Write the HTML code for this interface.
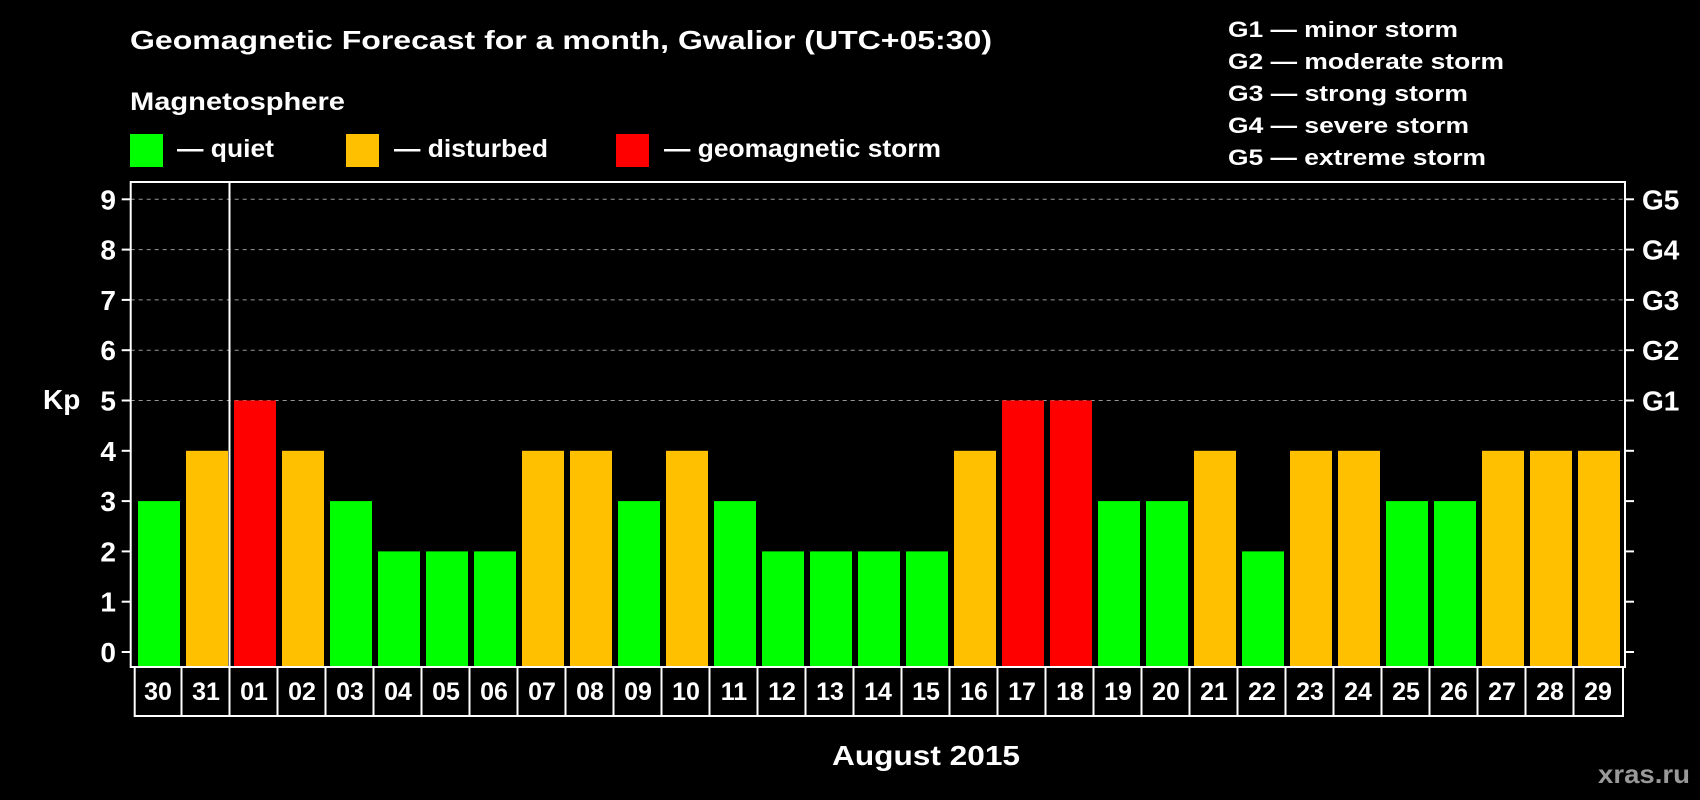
<!DOCTYPE html>
<html><head><meta charset="utf-8"><style>
html,body{margin:0;padding:0;background:#000;}
svg{display:block;font-family:"Liberation Sans",Arial,sans-serif;font-weight:bold;}
</style></head><body>
<svg id="chart" width="1700" height="800" viewBox="0 0 1700 800">
<rect x="0" y="0" width="1700" height="800" fill="#000"/>
<text x="130" y="49" fill="#fff" font-size="26" textLength="862" lengthAdjust="spacingAndGlyphs">Geomagnetic Forecast for a month, Gwalior (UTC+05:30)</text>
<text x="130" y="110" fill="#fff" font-size="25" textLength="215" lengthAdjust="spacingAndGlyphs">Magnetosphere</text>
<g>
<rect x="130" y="134" width="33" height="33" fill="#00ff00"/>
<text x="177" y="157" fill="#fff" font-size="25" textLength="97" lengthAdjust="spacingAndGlyphs">— quiet</text></g>
<g>
<rect x="346" y="134" width="33" height="33" fill="#ffc000"/>
<text x="394" y="157" fill="#fff" font-size="25" textLength="154" lengthAdjust="spacingAndGlyphs">— disturbed</text></g>
<g>
<rect x="616" y="134" width="33" height="33" fill="#ff0000"/>
<text x="664" y="157" fill="#fff" font-size="25" textLength="277" lengthAdjust="spacingAndGlyphs">— geomagnetic storm</text></g>
<g fill="#fff" font-size="22">
<text x="1228" y="37" textLength="230" lengthAdjust="spacingAndGlyphs">G1 — minor storm</text>
<text x="1228" y="69" textLength="276" lengthAdjust="spacingAndGlyphs">G2 — moderate storm</text>
<text x="1228" y="101" textLength="240" lengthAdjust="spacingAndGlyphs">G3 — strong storm</text>
<text x="1228" y="133" textLength="241" lengthAdjust="spacingAndGlyphs">G4 — severe storm</text>
<text x="1228" y="165" textLength="258" lengthAdjust="spacingAndGlyphs">G5 — extreme storm</text>
</g>
<text x="43" y="409" fill="#fff" font-size="28">Kp</text>
<g id="grid"></g><g id="bars"></g><g id="axes"></g>
<text x="832" y="765" fill="#fff" font-size="28" textLength="188" lengthAdjust="spacingAndGlyphs">August 2015</text>
<text x="1598" y="783" fill="#999" font-size="26" textLength="92" lengthAdjust="spacingAndGlyphs">xras.ru</text>
</svg>
<script>
const days = ["30","31","01","02","03","04","05","06","07","08","09","10","11","12","13","14","15","16","17","18","19","20","21","22","23","24","25","26","27","28","29"];
const kp = [3,4,5,4,3,2,2,2,4,4,3,4,3,2,2,2,2,4,5,5,3,3,4,2,4,4,3,3,4,4,4];
const yTicks = [0,1,2,3,4,5,6,7,8,9];
const gLabels = ["G1","G2","G3","G4","G5"];
const gLevels = [5,6,7,8,9];

const NS="http://www.w3.org/2000/svg";
const L=130.7,R=1625,T=182,B=667;
const y0=652,unit=50.3;
function yS(v){return y0-v*unit;}
function xS(i){return 138+i*48;}
const BW=42;
function mk(tag,attrs,parent){const e=document.createElementNS(NS,tag);for(const k in attrs)e.setAttribute(k,attrs[k]);parent.appendChild(e);return e;}
const grid=document.getElementById('grid'),bars=document.getElementById('bars'),axes=document.getElementById('axes');
gLevels.forEach(v=>{
  const ln=mk('line',{x1:L,x2:R,y1:yS(v),y2:yS(v),stroke:'#999','stroke-width':1,'stroke-dasharray':'4,4'},grid);
  
  
});
kp.forEach((v,i)=>{
  const c=v>=5?'#ff0000':(v>=4?'#ffc000':'#00ff00');
  const r=mk('rect',{x:xS(i),y:yS(v),width:BW,height:B-yS(v),fill:c},bars);
  
  
});
const fr=mk('rect',{x:L,y:T,width:R-L,height:B-T,fill:'none',stroke:'#fff','stroke-width':2},axes);


const sep=mk('line',{x1:xS(2)-4.5,x2:xS(2)-4.5,y1:T,y2:716,stroke:'#fff','stroke-width':2},axes);


yTicks.forEach(v=>{
  mk('line',{x1:L-9,x2:L,y1:yS(v),y2:yS(v),stroke:'#fff','stroke-width':2},axes);
  mk('line',{x1:R,x2:R+9,y1:yS(v),y2:yS(v),stroke:'#fff','stroke-width':2},axes);
  const t=mk('text',{x:116,y:yS(v)+10,fill:'#fff','font-size':28,'text-anchor':'end'},axes);
  t.textContent=v;
  
  
});
gLabels.forEach((g,i)=>{
  const t=mk('text',{x:1642,y:yS(gLevels[i])+10,fill:'#fff','font-size':28},axes);
  t.textContent=g;
  
  
});
const bx=mk('rect',{x:134.7,y:B,width:1623-134.7,height:49,fill:'none',stroke:'#fff','stroke-width':2},axes);


days.forEach((d,i)=>{
  if(i>0){mk('line',{x1:xS(i)-4.5,x2:xS(i)-4.5,y1:B,y2:716,stroke:'#fff','stroke-width':2},axes);}
  const t=mk('text',{x:xS(i)+BW/2-1,y:700,fill:'#fff','font-size':25,'text-anchor':'middle'},axes);
  t.textContent=d;
  
  
});
</script>
</body></html>
